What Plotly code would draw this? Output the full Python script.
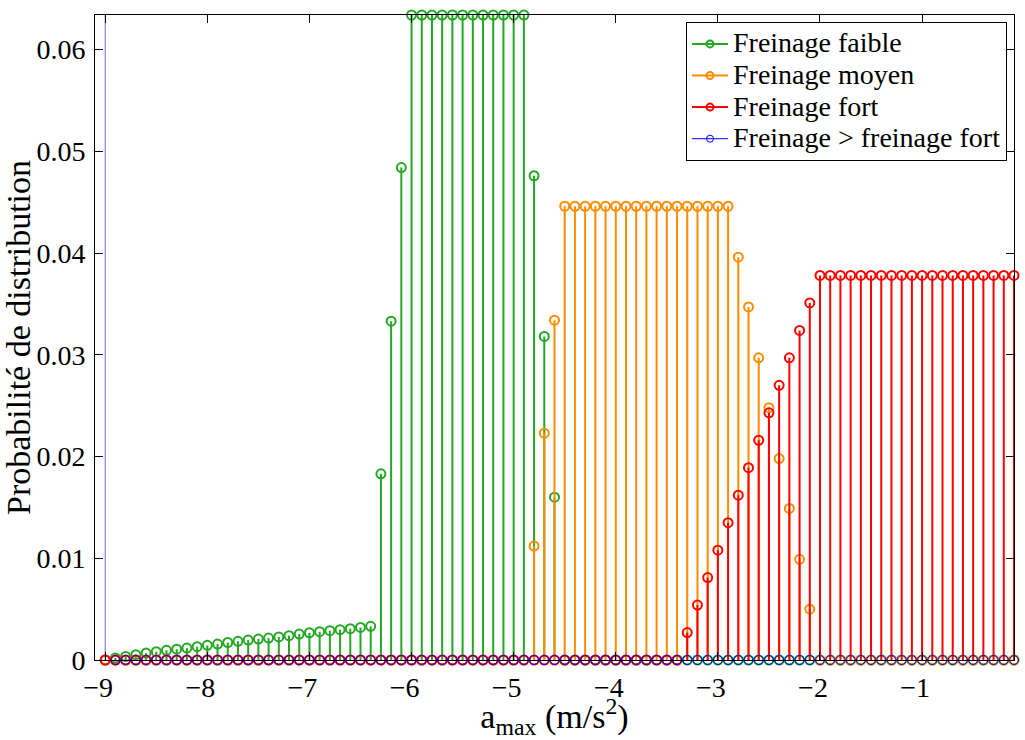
import plotly.graph_objects as go

# x grid (m/s^2)
x_vals = [-9.0, -8.9, -8.8, -8.7, -8.6, -8.5, -8.4, -8.3, -8.2, -8.1,
          -8.0, -7.9, -7.8, -7.7, -7.6, -7.5, -7.4, -7.3, -7.2, -7.1,
          -7.0, -6.9, -6.8, -6.7, -6.6, -6.5, -6.4, -6.3, -6.2, -6.1,
          -6.0, -5.9, -5.8, -5.7, -5.6, -5.5, -5.4, -5.3, -5.2, -5.1,
          -5.0, -4.9, -4.8, -4.7, -4.6, -4.5, -4.4, -4.3, -4.2, -4.1,
          -4.0, -3.9, -3.8, -3.7, -3.6, -3.5, -3.4, -3.3, -3.2, -3.1,
          -3.0, -2.9, -2.8, -2.7, -2.6, -2.5, -2.4, -2.3, -2.2, -2.1,
          -2.0, -1.9, -1.8, -1.7, -1.6, -1.5, -1.4, -1.3, -1.2, -1.1,
          -1.0, -0.9, -0.8, -0.7, -0.6, -0.5, -0.4, -0.3, -0.2, -0.1]

faible = ([0.0,
           0.00020, 0.00035, 0.00052, 0.00068, 0.00082, 0.00095, 0.00106, 0.00117, 0.00131,
           0.00144, 0.00157, 0.00172, 0.00184, 0.00196, 0.00206, 0.00216, 0.00227, 0.00239,
           0.00255, 0.00268, 0.00278, 0.00288, 0.00298, 0.00308, 0.00320, 0.00331,
           0.0183, 0.0333, 0.0484,
           0.0634, 0.0634, 0.0634, 0.0634, 0.0634, 0.0634,
           0.0634, 0.0634, 0.0634, 0.0634, 0.0634, 0.0634,
           0.0476, 0.0318, 0.0160]
          + [0.0] * 45)

moyen = ([0.0] * 42
         + [0.0112, 0.0223, 0.0334]
         + [0.0446] * 17
         + [0.0396, 0.0347, 0.0297, 0.0248, 0.0198, 0.0149, 0.0099, 0.0050]
         + [0.0] * 20)

fort = ([0.0] * 57
        + [0.0027, 0.0054, 0.0081, 0.0108, 0.0135, 0.0162, 0.0189,
           0.0216, 0.0243, 0.0270, 0.0297, 0.0324, 0.0351]
        + [0.0378] * 20)

sup_fort = [1.0] + [0.0] * 89

series_names = ["Freinage faible", "Freinage moyen", "Freinage fort",
                "Freinage > freinage fort"]
series_values = [faible, moyen, fort, sup_fort]
series_colors = ["rgb(36,168,36)", "rgb(255,140,0)", "rgb(255,0,0)", "rgb(0,0,255)"]
stem_widths = [2, 2, 2, 1]

y_ticks = [0, 0.01, 0.02, 0.03, 0.04, 0.05, 0.06]
y_ticktext = ["0", "0.01", "0.02", "0.03", "0.04", "0.05", "0.06"]
x_ticks = [-9, -8, -7, -6, -5, -4, -3, -2, -1]

FONT = "Liberation Serif, Times New Roman, serif"

fig = go.Figure()
for name, vals, col, lw in zip(series_names, series_values, series_colors, stem_widths):
    sx, sy = [], []
    for xv, yv in zip(x_vals, vals):
        sx += [xv, xv, None]
        sy += [0, yv, None]
    line_col = "rgb(100,100,255)" if lw == 1 else col
    fig.add_trace(go.Scatter(x=sx, y=sy, mode="lines",
                             line=dict(color=line_col, width=lw),
                             showlegend=False, hoverinfo="skip"))
    fig.add_trace(go.Scatter(x=x_vals, y=vals, mode="markers",
                             marker=dict(symbol="circle-open", size=9,
                                         color=col, line=dict(width=lw, color=col)),
                             cliponaxis=False, showlegend=False))
    fig.add_trace(go.Scatter(x=[None], y=[None], mode="lines+markers",
                             name='<span style="font-size:28px">' + name.replace(">", "&gt;") + "</span>",
                             line=dict(color=col, width=lw),
                             marker=dict(symbol="circle-open", size=7,
                                         color=col, line=dict(width=lw, color=col))))

fig.update_layout(
    width=1025, height=740,
    margin=dict(l=95, r=11, t=15, b=80),
    paper_bgcolor="white", plot_bgcolor="white",
    font=dict(family=FONT, size=28, color="black"),
    showlegend=True,
    legend=dict(x=0.9924, y=0.989, xanchor="right", yanchor="top",
                bgcolor="white", bordercolor="black", borderwidth=1,
                font=dict(family=FONT, size=22, color="black"),
                itemwidth=36, tracegroupgap=0),
    xaxis=dict(range=[-9.1, -0.1], tickmode="array", tickvals=x_ticks,
               ticks="inside", ticklen=8, tickcolor="black",
               showline=True, linecolor="black", linewidth=1, mirror="ticks",
               showgrid=False, zeroline=False, ticklabelstandoff=2,
               ticklabelshift=-7, automargin=False,
               title=dict(text="a<sub>max</sub> (m/s<sup>2</sup>)", standoff=8),
               tickfont=dict(family=FONT, size=28)),
    yaxis=dict(range=[0, 0.0634], tickmode="array",
               tickvals=y_ticks, ticktext=y_ticktext,
               ticks="inside", ticklen=8, tickcolor="black",
               showline=True, linecolor="black", linewidth=1, mirror="ticks",
               showgrid=False, zeroline=False, ticklabelstandoff=3,
               automargin=False,
               title=dict(text="Probabilité de distribution", standoff=10),
               tickfont=dict(family=FONT, size=28)),
)

fig.write_html("out.html",
               config={"displayModeBar": False},
               post_script="document.body.style.margin='0';document.body.style.padding='0';"
                           "document.body.style.overflow='hidden';")
